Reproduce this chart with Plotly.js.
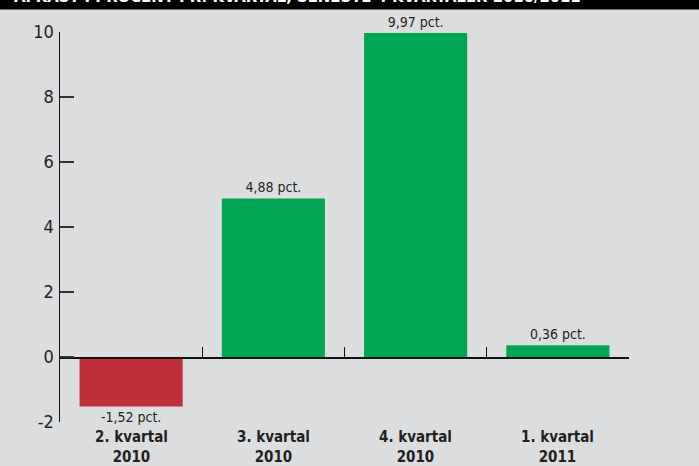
<!DOCTYPE html>
<html>
<head>
<meta charset="utf-8">
<script src="https://cdn.plot.ly/plotly-3.0.1.min.js"></script>
<style>
  html, body { margin: 0; padding: 0; background: #dcdddf; }
  #chart { width: 699px; height: 466px; }
</style>
</head>
<body>
<div id="chart"></div>
<script>
// Quarterly return, per cent
const quarters = ['2. kvartal', '3. kvartal', '4. kvartal', '1. kvartal'];
const years = ['2010', '2010', '2010', '2011'];
const returns = [-1.52, 4.88, 9.97, 0.36];
const yTicks = [-2, 0, 2, 4, 6, 8, 10];
const headline = 'AFKAST I PROCENT PR. KVARTAL, SENESTE 4 KVARTALER 2010/2011';

const RED = '#be2f37';
const GREEN = '#00a651';
const TEXT = '#231f20';
const CONDENSED = '"DejaVu Sans Condensed", "Liberation Sans Narrow", sans-serif';

const categories = quarters.map((q, i) => q + ' ' + years[i]);
const valueLabels = returns.map(v => v.toFixed(2).replace('.', ',') + ' pct.');

const trace = {
  type: 'bar',
  x: categories,
  y: returns,
  width: 0.725,
  marker: { color: returns.map(v => (v < 0 ? RED : GREEN)), line: { width: 0 } },
  text: valueLabels,
  textposition: 'outside',
  cliponaxis: false,
  textfont: { family: CONDENSED, size: 14, color: TEXT },
  hoverinfo: 'skip'
};

// Category names under the plot, two lines each
const catLabels = categories.map((c, i) => ({
  xref: 'x', yref: 'paper',
  x: c, y: 0,
  yanchor: 'top', yshift: -4,
  text: '<b>' + quarters[i] + '<br>' + years[i] + '</b>',
  showarrow: false,
  font: { family: CONDENSED, size: 15, color: TEXT }
}));

// Headline in the black band along the top edge
const headlineLabel = {
  xref: 'paper', yref: 'paper',
  x: -0.085, xanchor: 'left',
  y: 1.061, yanchor: 'bottom',
  text: '<b>' + headline + '</b>',
  showarrow: false,
  font: { family: CONDENSED, size: 16.5, color: '#ffffff' }
};

const layout = {
  width: 699,
  height: 466,
  margin: { l: 60, r: 70, t: 32, b: 44 },
  paper_bgcolor: '#dcdddf',
  plot_bgcolor: '#dcdddf',
  showlegend: false,
  bargap: 0.275,
  xaxis: {
    type: 'category',
    anchor: 'free',
    position: (0 - yTicks[0]) / (yTicks[yTicks.length - 1] - yTicks[0]),
    showline: true,
    linecolor: '#111',
    linewidth: 1.5,
    showgrid: false,
    zeroline: false,
    ticks: 'inside',
    tickson: 'boundaries',
    ticklen: 10,
    tickwidth: 1.2,
    tickcolor: '#111',
    showticklabels: false,
    fixedrange: true
  },
  yaxis: {
    range: [yTicks[0], yTicks[yTicks.length - 1]],
    tickvals: yTicks,
    ticktext: yTicks.map(String),
    showline: true,
    linecolor: '#111',
    linewidth: 1.5,
    showgrid: false,
    zeroline: false,
    ticks: 'inside',
    ticklen: 14,
    tickwidth: 1.2,
    tickcolor: '#333',
    ticklabelstandoff: 1,
    tickfont: { family: CONDENSED, size: 18, color: TEXT },
    fixedrange: true
  },
  shapes: [{
    type: 'rect', xref: 'paper', yref: 'paper',
    x0: -0.2, x1: 1.2, y0: 1.058, y1: 1.2,
    fillcolor: '#000', line: { width: 0 }, layer: 'below'
  }],
  annotations: [headlineLabel].concat(catLabels)
};

Plotly.newPlot('chart', [trace], layout, { displayModeBar: false, staticPlot: true });
</script>
</body>
</html>
